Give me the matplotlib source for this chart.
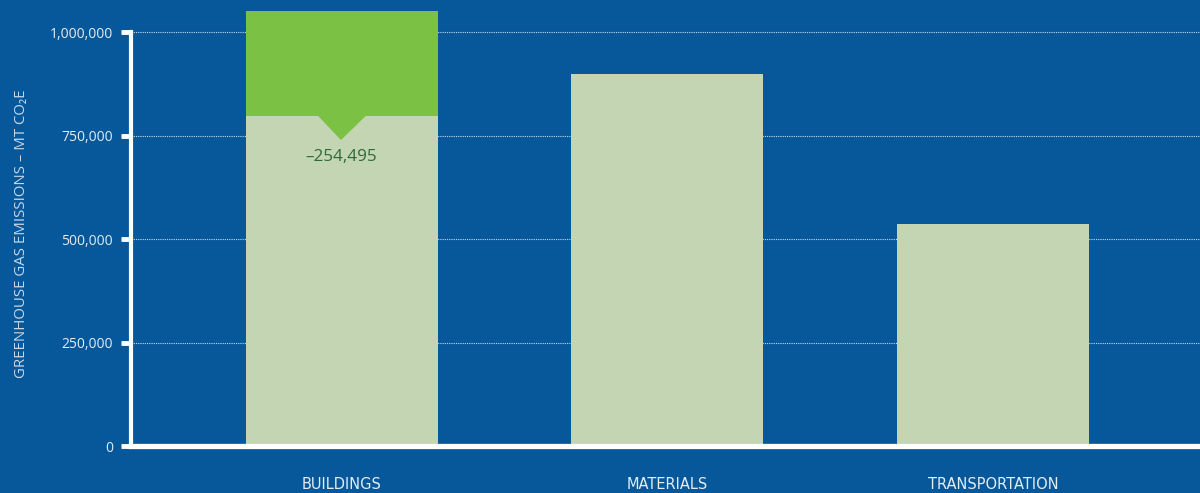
import numpy as np
import matplotlib.pyplot as plt

plt.rcParams['font.family'] = ['Open Sans', 'DejaVu Sans']

categories = ['BUILDINGS', 'MATERIALS', 'TRANSPORTATION']
emissions = [797100, 898000, 536000]          # remaining emissions (light bars)
reduction = [254495, 0, 0]                    # reduction shown on top (green)
yticks = [0, 250000, 500000, 750000, 1000000]

BG = '#07589a'
LIGHT = '#c3d5b3'
GREEN = '#7bc143'
TXT = '#e4ecf4'

fig = plt.figure(figsize=(12, 4.93), dpi=100, facecolor=BG)
ax = fig.add_axes([131/1200, 47/493, 1069/1200, 446/493])
ax.set_facecolor(BG)

x = np.arange(len(categories))
w = 0.59
ax.bar(x, emissions, width=w, color=LIGHT, zorder=2)
ax.bar(x, reduction, width=w, bottom=emissions, color=GREEN, zorder=2)

# notch pointing down from the reduction block
for xi, base, red in zip(x, emissions, reduction):
    if red > 0:
        ax.fill([xi - 0.073, xi + 0.073, xi - 0.003], [base, base, base - 58000],
                color=GREEN, lw=0, zorder=3)
        ax.text(xi - 0.003, base - 80000, f'\u2013{red:,}', ha='center', va='top',
                color='#2f6a3c', fontsize=12.3, zorder=4)

for t in yticks[1:]:
    ax.axhline(t, color='#c8d8ea', lw=0.8, ls=(0, (1, 1)), zorder=1)

ax.set_xlim(-0.648, 2.636)
ax.set_ylim(0, 1077300)
ax.set_xticks(x)
ax.set_xticklabels(categories, family=['Liberation Sans Narrow', 'DejaVu Sans'], fontsize=10.5)
ax.set_yticks(yticks)
ax.set_yticklabels([f'{t:,}' for t in yticks], fontsize=10)
ax.tick_params(axis='y', colors='white', labelcolor=TXT, length=7, width=3.5, direction='out', pad=6)
ax.tick_params(axis='x', length=0, labelcolor=TXT, pad=22)

for s in ['top', 'right']:
    ax.spines[s].set_visible(False)
ax.spines['left'].set_color('white')
ax.spines['left'].set_linewidth(3)
ax.spines['left'].set_bounds(0, 1000000)
ax.spines['left'].set_zorder(5)
ax.spines['bottom'].set_color('white')
ax.spines['bottom'].set_linewidth(3.8)
ax.spines['bottom'].set_zorder(5)

ax.set_ylabel('GREENHOUSE GAS EMISSIONS \u2013 MT CO\u2082E', color='#c9d7e6', fontsize=10.8)
ax.yaxis.set_label_coords(-0.095, 0.475)

fig.savefig('out.png', dpi=100, facecolor=BG)
